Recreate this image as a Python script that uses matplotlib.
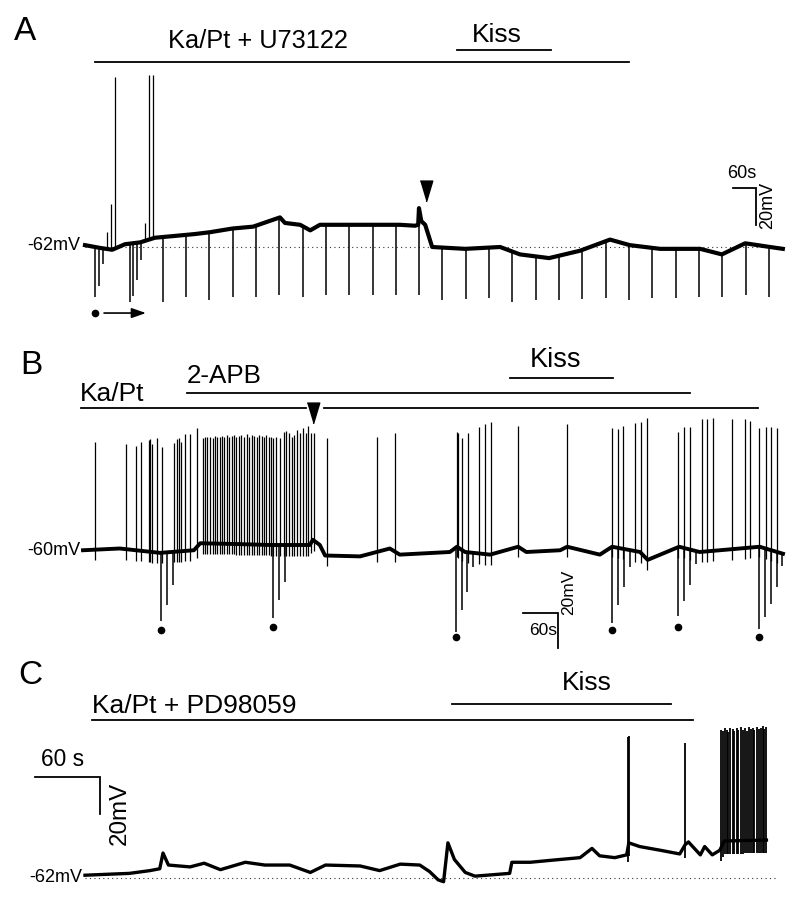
import numpy as np
import matplotlib
matplotlib.use("Agg")
import matplotlib.pyplot as plt

plt.rcParams['font.family'] = ['Liberation Sans', 'DejaVu Sans']

# ---- Panel A: Ka/Pt + U73122 (time in s, membrane potential in mV)
a_trace_t = [0, 39, 70, 103, 142, 180, 232, 283, 322, 380, 433, 502, 515, 554, 580, 605,
             708, 811, 850, 858, 860, 866, 876, 894, 979, 1069, 1120, 1195, 1275, 1352,
             1403, 1481, 1584, 1640, 1700, 1764, 1797]
a_trace_v = [-61, -62.5, -63.5, -60.5, -59.5, -57, -56, -55, -54, -52, -51, -46, -49, -50,
             -53, -50, -50, -50, -50.5, -50, -41, -48, -50, -62, -63, -62, -66, -68, -64,
             -58, -61, -63, -63, -66, -60, -62, -63]
a_pulse_t = [26, 36, 46, 116, 124, 134, 144, 201, 260, 319, 381, 440, 500, 561, 621, 680,
             742, 801, 860, 919, 981, 1040, 1100, 1161, 1221, 1280, 1342, 1401, 1460,
             1522, 1581, 1640, 1702, 1761]
a_pulse_v = [-89, -83, -71, -92, -88.5, -80, -69, -92, -89, -90.5, -89, -89, -88, -89, -88,
             -88, -88, -88, -88, -90.5, -90, -89.5, -91.5, -90.5, -90.5, -90, -89.5, -90.5,
             -89.5, -89.5, -89, -89, -88, -89]
a_spike_t = [57, 67, 77, 154, 165, 175, 201]
a_spike_v = [-54, -39, 30, -49, 31, 31, -55.5]

# ---- Panel B: Ka/Pt, 2-APB
b_trace_t = [0, 63, 132, 190, 201, 269, 321, 389, 394, 406, 415, 475, 526, 543, 629, 641,
             655, 698, 746, 760, 818, 830, 886, 907, 955, 968, 1022, 1057, 1126, 1160, 1200]
b_trace_v = [-59, -58, -60.5, -59, -55, -55.5, -56, -56, -53, -56, -62, -62.5, -58, -61.5,
             -60, -57, -60, -61.5, -57, -60, -59, -57, -61.5, -57, -60, -64.5, -57, -60,
             -58, -57, -61]
b_spike_t = [21, 74, 90, 100, 113, 115, 119, 127, 135, 156, 161, 165, 168, 174, 183, 195,
             205, 209, 213, 218, 222, 226, 230, 235, 238, 242, 246, 251, 255, 258, 262, 267,
             271, 276, 281, 285, 289, 293, 298, 302, 306, 310, 314, 318, 322, 326, 331, 338,
             345, 348, 353, 358, 362, 367, 372, 377, 382, 386, 391, 396,
             418, 504, 535, 641, 643, 650, 660, 679, 689, 699, 746, 830, 907, 917, 926, 946,
             956, 967, 1020, 1030, 1040, 1061, 1070, 1080, 1112, 1135, 1143, 1159, 1171,
             1179, 1190]
b_spike_v = [3, 1.7, 0.6, 3, 4, 4.5, 2, 5, 0.2, 2.5, 4.6, 5.1, 3, 7.4, 7.4, 10.9,
             5, 6, 5.5, 6, 5, 6.5, 6, 5.5, 6.5, 6, 7, 6, 6.5, 7, 6, 6.5,
             7, 6, 7.5, 6, 7, 6.5, 6, 7, 6.5, 6, 7, 6, 5.5, 5, 5.5, 5,
             8.8, 9.3, 8.2, 6, 7, 9.7, 8, 10.9, 8, 12, 8.2, 8.2,
             5.1, 5.7, 8, 8.6, 8, 5.1, 8, 11.4, 13.1, 14.3, 12, 13.1, 10.7, 10.3, 12, 13.9,
             14.5, 16.4, 8.8, 11.2, 11.6, 16, 16, 16.4, 16, 16, 14.9, 10.7, 11.2, 11.6, 10.7]
b_pulse_t = [134, 144, 155, 326, 336, 347, 639, 650, 659, 669, 907, 917, 927, 938,
             1020, 1030, 1040, 1051, 1159, 1169, 1179, 1189, 1199]
b_pulse_v = [-99.3, -90.3, -78.9, -97.7, -87.4, -77, -105.5, -93.1, -82.7, -68.4, -100.3,
             -90.3, -80.2, -68.4, -96.4, -87.8, -78.9, -66.9, -104, -97.1, -89.7, -79.8, -68]
b_dot_t = [134, 326, 639, 907, 1020, 1159]
b_dot_v = [-104.6, -102.9, -108.6, -104.6, -102.9, -108.6]

# ---- Panel C: Ka/Pt + PD98059
c_trace_t = [0, 20, 41, 60, 69, 72, 77, 97, 110, 125, 148, 166, 189, 208, 222, 254, 272,
             291, 309, 318, 326, 331, 335, 341, 351, 360, 392, 394, 411, 429, 457, 468,
             475, 489, 500, 502, 512, 531, 549, 554, 557, 568, 572, 579, 586, 590, 629]
c_trace_v = [-60.5, -60, -59.5, -58, -57, -48.5, -55, -56, -54, -57.5, -53.5, -55, -55,
             -59, -55, -55.5, -58, -54.5, -55, -58.5, -63, -64, -43, -52, -59, -61, -59.5,
             -53.5, -53.5, -52.5, -51, -46, -50, -51, -49.5, -43, -45, -47, -49, -44,
             -42.5, -49.5, -45, -49.5, -47, -42, -41.5]
c_spike_t = [501, 502.5, 554, 587, 588.6, 590.7, 592.3, 593.8, 595.3, 597.8, 599.3, 601.5,
             603, 605.2, 607, 609.2, 610.7, 613.1, 614.7, 616.3, 617.8, 620, 622.1, 623.7,
             625.5, 626.7, 628.6]
c_spike_v = [14, 15, 11, 18, 17.5, 19, 18, 17, 19, 18.5, 17.5, 19, 18, 19.5, 18, 19, 17.5,
             19.5, 18.5, 19, 18, 19.5, 18.5, 19, 20, 18.5, 19.5]

W, H = 800, 902
fig = plt.figure(figsize=(8, 9.02), dpi=100)


def panel_axes(top, bottom, x0, px_s, y0, v0, px_mv):
    ax = fig.add_axes([0, 1 - bottom / H, 1, (bottom - top) / H])
    ax.set_xlim(-x0 / px_s, (W - x0) / px_s)
    ax.set_ylim(v0 - (bottom - y0) / px_mv, v0 + (y0 - top) / px_mv)
    ax.axis('off')
    return ax


def draw_trace(ax, tt, vv, spk_t, spk_v, ahp=0.0, pul_t=None, pul_v=None, lw=2.0, slw=0.9):
    ax.plot(tt, vv, color='black', lw=lw, solid_joinstyle='round', clip_on=False)
    base = np.interp(spk_t, tt, vv)
    ax.vlines(spk_t, base - ahp, spk_v, color='black', lw=slw)
    if pul_t is not None:
        pbase = np.interp(pul_t, tt, vv)
        ax.vlines(pul_t, pbase, pul_v, color='black', lw=1.1)


def scale_bar(ax, t_right, v_top, dt=60, dv=20):
    ax.plot([t_right - dt, t_right, t_right], [v_top, v_top, v_top - dv],
            color='black', lw=1.3, solid_joinstyle='miter', clip_on=False)


def drug_bar(ax, t0, t1, v):
    ax.plot([t0, t1], [v, v], color='black', lw=1.3, clip_on=False)


arrow_head = [(-0.3, 0.5), (0.3, 0.5), (0, -0.5)]

# Panel A
ax = panel_axes(0, 330, 85, 23.3 / 60, 247, -62, 1.85)
ax.plot([0, 1797], [-62, -62], color='#333333', lw=0.8, ls=(0, (1, 3)))
draw_trace(ax, a_trace_t, a_trace_v, a_spike_t, a_spike_v, 0, a_pulse_t, a_pulse_v, lw=3.0)
drug_bar(ax, 26, 1401, 38)
drug_bar(ax, 958, 1200, 44.5)
ax.text(214, 45.6, 'Ka/Pt + U73122', fontsize=18.3, va='baseline')
ax.text(996, 48.8, 'Kiss', fontsize=19, va='baseline')
ax.text(-13, -61, '-62mV', fontsize=13, ha='right', va='center')
ax.plot([878], [-31.7], marker=arrow_head, markersize=15, color='black', clip_on=False)
ax.plot([26], [-97.7], 'o', color='black', markersize=4.5)
ax.annotate('', xy=(157, -97.7), xytext=(49, -97.7),
            arrowprops=dict(arrowstyle='-|>,head_length=0.86,head_width=0.3',
                            color='black', lw=1.2, shrinkA=0, shrinkB=0))
scale_bar(ax, 1728, -30)
ax.text(1692, -22, '60s', fontsize=13, ha='center', va='center')
ax.text(1757, -39.3, '20mV', fontsize=13, ha='center', va='center', rotation=90)

# Panel B
ax = panel_axes(330, 655, 83, 35 / 60, 552, -60, 1.75)
draw_trace(ax, b_trace_t, b_trace_v, b_spike_t, b_spike_v, 6, b_pulse_t, b_pulse_v, lw=2.8)
drug_bar(ax, -3, 382, 22.3)
drug_bar(ax, 413, 1157, 22.3)
drug_bar(ax, 178, 1040, 30.9)
drug_bar(ax, 732, 908, 39.4)
ax.text(-5, 26.3, 'Ka/Pt', fontsize=19, va='baseline')
ax.text(178, 36.6, '2-APB', fontsize=18.7, va='baseline')
ax.text(766, 45.7, 'Kiss', fontsize=19.5, va='baseline')
ax.text(-5, -59.4, '-60mV', fontsize=13, ha='right', va='center')
ax.plot([394], [19.4], marker=arrow_head, markersize=15, color='black', clip_on=False)
ax.plot(b_dot_t, b_dot_v, 'o', color='black', markersize=4.5, ls='none')
scale_bar(ax, 814, -94.9)
ax.text(788, -104.6, '60s', fontsize=12.5, ha='center', va='center')
ax.text(833, -83, '20mV', fontsize=12.5, ha='center', va='center', rotation=90)

# Panel C
ax = panel_axes(655, 902, 85, 65 / 60, 878, -62, 1.85)
ax.plot([0, 640], [-62, -62], color='#333333', lw=0.8, ls=(0, (1, 3)))
draw_trace(ax, c_trace_t, c_trace_v, c_spike_t, c_spike_v, 7, lw=2.4, slw=1.3)
drug_bar(ax, 6.5, 561, 23.4)
drug_bar(ax, 339, 541, 32)
ax.text(6.5, 27.2, 'Ka/Pt + PD98059', fontsize=19, va='baseline')
ax.text(440, 39.6, 'Kiss', fontsize=19, va='baseline')
ax.text(-2.8, -61.5, '-62mV', fontsize=13, ha='right', va='center')
scale_bar(ax, 13.8, -7.4)
ax.text(-20.3, 1.8, '60 s', fontsize=16.4, ha='center', va='center')
ax.text(32.3, -26.9, '20mV', fontsize=17.4, ha='center', va='center', rotation=90)

fig.text(14 / W, 1 - 32 / H, 'A', fontsize=24, va='center')
fig.text(20 / W, 1 - 366 / H, 'B', fontsize=24, va='center')
fig.text(18 / W, 1 - 675 / H, 'C', fontsize=24, va='center')

fig.savefig('out.png', dpi=100, facecolor='white')
